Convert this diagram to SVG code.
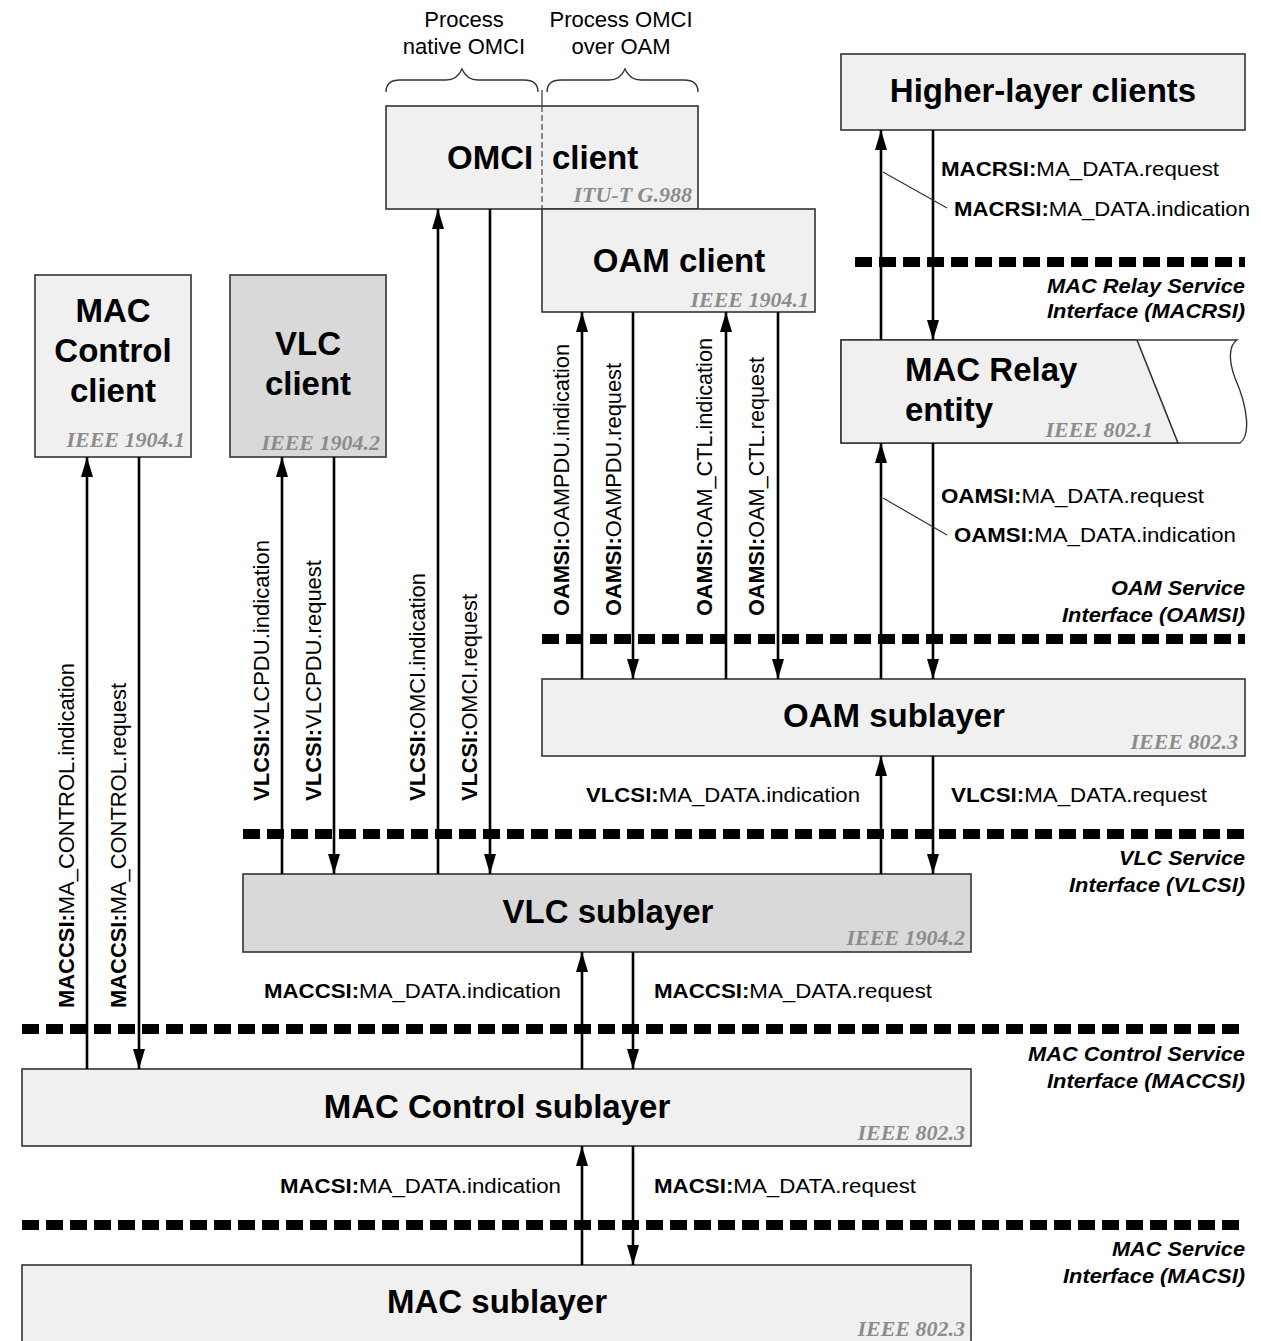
<svg xmlns="http://www.w3.org/2000/svg" width="1261" height="1341" viewBox="0 0 1261 1341">
<style>
.box{stroke:#333;stroke-width:1.6}
.lt{fill:#f0f0f0}
.dk{fill:#d9d9d9}
.ttl{font-family:"Liberation Sans",Arial,sans-serif;font-weight:bold;font-size:33px;fill:#000}
.std{font-family:"Liberation Serif","Times New Roman",serif;font-weight:bold;font-style:italic;font-size:22px;fill:#8c8c8c;text-anchor:end}
.lbl{font-family:"Liberation Sans",Arial,sans-serif;font-size:20px;fill:#000}
.vl{font-family:"Liberation Sans",Arial,sans-serif;font-size:22px;fill:#000}
.b{font-weight:bold}
.if{font-family:"Liberation Sans",Arial,sans-serif;font-size:20px;font-weight:bold;font-style:italic;fill:#000}
.top{font-family:"Liberation Sans",Arial,sans-serif;font-size:22px;fill:#000;text-anchor:middle}
.dash{stroke:#000;stroke-width:10;stroke-dasharray:17 7;fill:none}
.arr{stroke:#000;stroke-width:2.6;fill:none;marker-end:url(#ah)}
.thin{stroke:#333;stroke-width:1.4;fill:none}
</style>
<defs>
<marker id="ah" viewBox="0 0 20 12" refX="20" refY="6" markerWidth="20" markerHeight="12" markerUnits="userSpaceOnUse" orient="auto"><path d="M0,0 L20,6 L0,12 z" fill="#000"/></marker>
</defs>
<rect width="1261" height="1341" fill="#fff"/>

<g id="interfaces">
<line class="dash" x1="855" y1="262" x2="1245" y2="262"/>
<line class="dash" x1="542" y1="639" x2="1245" y2="639"/>
<line class="dash" x1="243" y1="834" x2="1245" y2="834"/>
<line class="dash" x1="22" y1="1029" x2="1245" y2="1029"/>
<line class="dash" x1="22" y1="1225" x2="1245" y2="1225"/>
<text class="if" x="1047" y="293" textLength="198" lengthAdjust="spacingAndGlyphs">MAC Relay Service</text>
<text class="if" x="1047" y="318" textLength="198" lengthAdjust="spacingAndGlyphs">Interface (MACRSI)</text>
<text class="if" x="1111" y="595" textLength="134" lengthAdjust="spacingAndGlyphs">OAM Service</text>
<text class="if" x="1062" y="622" textLength="183" lengthAdjust="spacingAndGlyphs">Interface (OAMSI)</text>
<text class="if" x="1119" y="865" textLength="126" lengthAdjust="spacingAndGlyphs">VLC Service</text>
<text class="if" x="1069" y="892" textLength="176" lengthAdjust="spacingAndGlyphs">Interface (VLCSI)</text>
<text class="if" x="1028" y="1061" textLength="217" lengthAdjust="spacingAndGlyphs">MAC Control Service</text>
<text class="if" x="1047" y="1088" textLength="198" lengthAdjust="spacingAndGlyphs">Interface (MACCSI)</text>
<text class="if" x="1112" y="1256" textLength="133" lengthAdjust="spacingAndGlyphs">MAC Service</text>
<text class="if" x="1063" y="1283" textLength="182" lengthAdjust="spacingAndGlyphs">Interface (MACSI)</text>
</g>

<g id="braces">
<path class="thin" d="M386,92 C386,84 390,80 400,80 H446 C454,80 459,76 462,69 C465,76 470,80 478,80 H524 C534,80 538,84 538,92"/>
<path class="thin" d="M547,92 C547,84 551,80 561,80 H609 C617,80 622,76 625,69 C628,76 633,80 641,80 H684 C694,80 698,84 698,92"/>
<text class="top" x="464" y="27">Process</text>
<text class="top" x="464" y="54">native OMCI</text>
<text class="top" x="621" y="27">Process OMCI</text>
<text class="top" x="621" y="54">over OAM</text>
</g>

<g id="higher-layer-clients">
<rect class="box lt" x="841" y="54" width="404" height="76"/>
<text class="ttl" x="1043" y="102" text-anchor="middle">Higher-layer clients</text>
</g>

<g id="omci-client">
<rect class="box lt" x="386" y="106" width="312" height="103"/>
<line x1="542" y1="90" x2="542" y2="106" stroke="#333" stroke-width="1.2"/>
<line x1="542" y1="106" x2="542" y2="209" stroke="#444" stroke-width="1.2" stroke-dasharray="6 3"/>
<text class="ttl"><tspan x="447" y="169">OMCI</tspan><tspan x="552" y="169">client</tspan></text>
<text class="std" x="692" y="202">ITU-T G.988</text>
</g>

<g id="oam-client">
<rect class="box lt" x="542" y="209" width="273" height="103"/>
<text class="ttl" x="679" y="272" text-anchor="middle">OAM client</text>
<text class="std" x="809" y="307">IEEE 1904.1</text>
</g>

<g id="mac-control-client">
<rect class="box lt" x="35" y="275" width="156" height="182"/>
<text class="ttl" text-anchor="middle"><tspan x="113" y="322">MAC</tspan><tspan x="113" y="362">Control</tspan><tspan x="113" y="402">client</tspan></text>
<text class="std" x="185" y="447">IEEE 1904.1</text>
</g>

<g id="vlc-client">
<rect class="box dk" x="230" y="275" width="156" height="182"/>
<text class="ttl" text-anchor="middle"><tspan x="308" y="355">VLC</tspan><tspan x="308" y="395">client</tspan></text>
<text class="std" x="380" y="450">IEEE 1904.2</text>
</g>

<g id="mac-relay-entity">
<path d="M841,340 H1237 C1228,346 1229,362 1235,378 C1249,410 1250,436 1240,443 H841 Z" fill="#fff" stroke="#333" stroke-width="1.4"/>
<path class="box lt" d="M841,340 H1137 L1178,443 H841 Z"/>
<text class="ttl" x="905" y="381">MAC Relay</text>
<text class="ttl" x="905" y="421">entity</text>
<text class="std" x="1153" y="437">IEEE 802.1</text>
</g>

<g id="oam-sublayer">
<rect class="box lt" x="542" y="679" width="703" height="77"/>
<text class="ttl" x="894" y="727" text-anchor="middle">OAM sublayer</text>
<text class="std" x="1238" y="749">IEEE 802.3</text>
</g>

<g id="vlc-sublayer">
<rect class="box dk" x="243" y="874" width="728" height="78"/>
<text class="ttl" x="608" y="923" text-anchor="middle">VLC sublayer</text>
<text class="std" x="965" y="945">IEEE 1904.2</text>
</g>

<g id="mac-control-sublayer">
<rect class="box lt" x="22" y="1069" width="949" height="77"/>
<text class="ttl" x="497" y="1118" text-anchor="middle">MAC Control sublayer</text>
<text class="std" x="965" y="1140">IEEE 802.3</text>
</g>

<g id="mac-sublayer">
<rect class="box lt" x="22" y="1265" width="949" height="90"/>
<text class="ttl" x="497" y="1313" text-anchor="middle">MAC sublayer</text>
<text class="std" x="965" y="1336">IEEE 802.3</text>
</g>

<g id="connectors">
<line class="arr" x1="87" y1="1069" x2="87" y2="457"/>
<line class="arr" x1="139" y1="457" x2="139" y2="1069"/>
<line class="arr" x1="282" y1="874" x2="282" y2="457"/>
<line class="arr" x1="334" y1="457" x2="334" y2="874"/>
<line class="arr" x1="438" y1="874" x2="438" y2="209"/>
<line class="arr" x1="490" y1="209" x2="490" y2="874"/>
<line class="arr" x1="582" y1="679" x2="582" y2="312"/>
<line class="arr" x1="633" y1="312" x2="633" y2="679"/>
<line class="arr" x1="726" y1="679" x2="726" y2="312"/>
<line class="arr" x1="778" y1="312" x2="778" y2="679"/>
<line class="arr" x1="881" y1="340" x2="881" y2="130"/>
<line class="arr" x1="933" y1="130" x2="933" y2="340"/>
<line class="arr" x1="881" y1="679" x2="881" y2="443"/>
<line class="arr" x1="933" y1="443" x2="933" y2="679"/>
<line class="arr" x1="881" y1="874" x2="881" y2="756"/>
<line class="arr" x1="933" y1="756" x2="933" y2="874"/>
<line class="arr" x1="582" y1="1069" x2="582" y2="952"/>
<line class="arr" x1="633" y1="952" x2="633" y2="1069"/>
<line class="arr" x1="582" y1="1265" x2="582" y2="1146"/>
<line class="arr" x1="633" y1="1146" x2="633" y2="1265"/>
<line x1="883" y1="172" x2="947" y2="208" stroke="#333" stroke-width="1.2"/>
<line x1="883" y1="498" x2="947" y2="535" stroke="#333" stroke-width="1.2"/>
</g>

<g id="labels">
<text class="lbl" x="941" y="176" textLength="278" lengthAdjust="spacingAndGlyphs"><tspan class="b">MACRSI:</tspan>MA_DATA.request</text>
<text class="lbl" x="954" y="216" textLength="296" lengthAdjust="spacingAndGlyphs"><tspan class="b">MACRSI:</tspan>MA_DATA.indication</text>
<text class="lbl" x="941" y="503" textLength="263" lengthAdjust="spacingAndGlyphs"><tspan class="b">OAMSI:</tspan>MA_DATA.request</text>
<text class="lbl" x="954" y="542" textLength="282" lengthAdjust="spacingAndGlyphs"><tspan class="b">OAMSI:</tspan>MA_DATA.indication</text>
<text class="lbl" x="586" y="802" textLength="274" lengthAdjust="spacingAndGlyphs"><tspan class="b">VLCSI:</tspan>MA_DATA.indication</text>
<text class="lbl" x="951" y="802" textLength="256" lengthAdjust="spacingAndGlyphs"><tspan class="b">VLCSI:</tspan>MA_DATA.request</text>
<text class="lbl" x="264" y="998" textLength="297" lengthAdjust="spacingAndGlyphs"><tspan class="b">MACCSI:</tspan>MA_DATA.indication</text>
<text class="lbl" x="654" y="998" textLength="278" lengthAdjust="spacingAndGlyphs"><tspan class="b">MACCSI:</tspan>MA_DATA.request</text>
<text class="lbl" x="280" y="1193" textLength="281" lengthAdjust="spacingAndGlyphs"><tspan class="b">MACSI:</tspan>MA_DATA.indication</text>
<text class="lbl" x="654" y="1193" textLength="262" lengthAdjust="spacingAndGlyphs"><tspan class="b">MACSI:</tspan>MA_DATA.request</text>

<text class="vl" transform="translate(74,1008) rotate(-90)" textLength="345" lengthAdjust="spacingAndGlyphs"><tspan class="b">MACCSI:</tspan>MA_CONTROL.indication</text>
<text class="vl" transform="translate(126,1008) rotate(-90)" textLength="325" lengthAdjust="spacingAndGlyphs"><tspan class="b">MACCSI:</tspan>MA_CONTROL.request</text>
<text class="vl" transform="translate(269,801) rotate(-90)" textLength="261" lengthAdjust="spacingAndGlyphs"><tspan class="b">VLCSI:</tspan>VLCPDU.indication</text>
<text class="vl" transform="translate(321,801) rotate(-90)" textLength="241" lengthAdjust="spacingAndGlyphs"><tspan class="b">VLCSI:</tspan>VLCPDU.request</text>
<text class="vl" transform="translate(425,801) rotate(-90)" textLength="228" lengthAdjust="spacingAndGlyphs"><tspan class="b">VLCSI:</tspan>OMCI.indication</text>
<text class="vl" transform="translate(477,801) rotate(-90)" textLength="207" lengthAdjust="spacingAndGlyphs"><tspan class="b">VLCSI:</tspan>OMCI.request</text>
<text class="vl" transform="translate(569,616) rotate(-90)" textLength="272" lengthAdjust="spacingAndGlyphs"><tspan class="b">OAMSI:</tspan>OAMPDU.indication</text>
<text class="vl" transform="translate(621,616) rotate(-90)" textLength="253" lengthAdjust="spacingAndGlyphs"><tspan class="b">OAMSI:</tspan>OAMPDU.request</text>
<text class="vl" transform="translate(712,616) rotate(-90)" textLength="278" lengthAdjust="spacingAndGlyphs"><tspan class="b">OAMSI:</tspan>OAM_CTL.indication</text>
<text class="vl" transform="translate(764,616) rotate(-90)" textLength="259" lengthAdjust="spacingAndGlyphs"><tspan class="b">OAMSI:</tspan>OAM_CTL.request</text>
</g>
</svg>
